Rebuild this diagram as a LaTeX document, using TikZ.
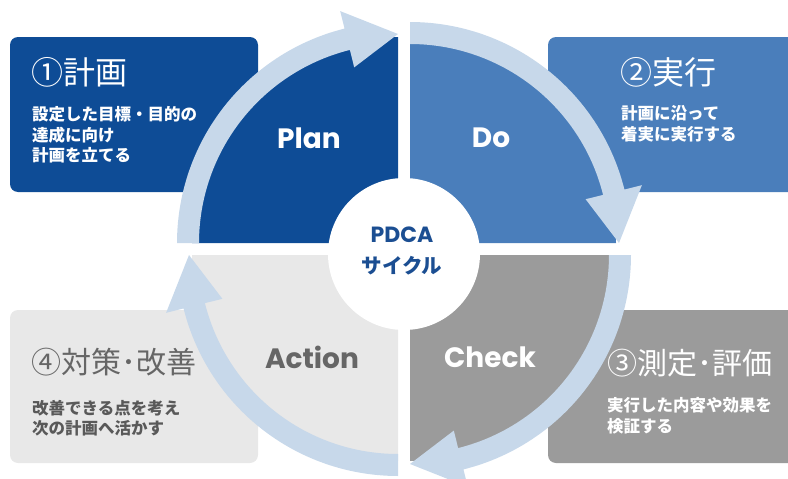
\documentclass[tikz,border=0pt]{standalone}
\usepackage{fontspec}
\newfontfamily\jp{Noto Sans CJK JP}
\newfontfamily\pop{Poppins}
\definecolor{planblue}{HTML}{0E4C96}
\definecolor{doblue}{HTML}{4A7EBB}
\definecolor{checkgray}{HTML}{9B9B9B}
\definecolor{actgray}{HTML}{E8E8E8}
\definecolor{arrowblue}{HTML}{C7D8EA}
\definecolor{acthead}{HTML}{666666}
\definecolor{acttext}{HTML}{595959}
\definecolor{centertext}{HTML}{1B4E92}
\begin{document}
\begin{tikzpicture}[x=1pt,y=-1pt,
  infobox/.style={rounded corners=8pt},
  headtext/.style={anchor=west,inner sep=0pt,font=\jp\fontsize{32}{38}\selectfont},
  longhead/.style={anchor=west,inner sep=0pt,font=\jp\fontsize{30}{36}\selectfont},
  subtext/.style={anchor=west,inner sep=0pt,align=left,font=\jp\bfseries\fontsize{16.5}{20.5}\selectfont},
  quadlabel/.style={inner sep=0pt,font=\pop\bfseries\fontsize{28}{32}\selectfont},
  cyclearrow/.style={fill=arrowblue}]
\useasboundingbox (0,0) rectangle (788,479);
% info boxes
\fill[planblue,infobox] (10,37) rectangle (258,192);
\fill[doblue,infobox] (548,37) rectangle (800,192);
\fill[checkgray,infobox] (548,310) rectangle (800,463);
\fill[actgray,infobox] (10,310) rectangle (258,463);
% Plan quadrant + arrow
\begin{scope}[shift={(398,243)}]
  \fill[planblue] (0,0) -- plot[domain=90:180,samples=60] (\x:206pt) -- cycle;
  \fill[cyclearrow] (180:221pt) -- plot[domain=180:104,samples=60] (\x:221pt)
    -- (104:239pt) -- (90:209pt) -- (104:181pt)
    -- plot[domain=104:180,samples=60] (\x:199pt) -- cycle;
\end{scope}
% Do quadrant + arrow
\begin{scope}[shift={(410,243)}]
  \fill[doblue] (0,0) -- plot[domain=0:90,samples=60] (\x:206pt) -- cycle;
  \fill[cyclearrow] (90:221pt) -- plot[domain=90:14,samples=60] (\x:221pt)
    -- (14:239pt) -- (0:209pt) -- (14:181pt)
    -- plot[domain=14:90,samples=60] (\x:199pt) -- cycle;
\end{scope}
% Check quadrant + arrow
\begin{scope}[shift={(410,255)}]
  \fill[checkgray] (0,0) -- plot[domain=-90:0,samples=60] (\x:206pt) -- cycle;
  \fill[cyclearrow] (0:221pt) -- plot[domain=0:-76,samples=60] (\x:221pt)
    -- (-76:239pt) -- (-90:209pt) -- (-76:181pt)
    -- plot[domain=-76:0,samples=60] (\x:199pt) -- cycle;
\end{scope}
% Action quadrant + arrow
\begin{scope}[shift={(398,255)}]
  \fill[actgray] (0,0) -- plot[domain=180:270,samples=60] (\x:206pt) -- cycle;
  \fill[cyclearrow] (270:221pt) -- plot[domain=270:194,samples=60] (\x:221pt)
    -- (194:239pt) -- (180:209pt) -- (194:181pt)
    -- plot[domain=194:270,samples=60] (\x:199pt) -- cycle;
\end{scope}
% centre disc
\fill[white] (404,254) circle[radius=76pt];
% quadrant labels
\node[quadlabel,text=white] (plan) at (309,138) {Plan};
\node[quadlabel,text=white] (do) at (491,138) {Do};
\node[quadlabel,text=white] (check) at (490,357) {Check};
\node[quadlabel,text=acthead] (action) at (312,357) {Action};
% centre text
\node[inner sep=0pt,text=centertext,font=\pop\bfseries\fontsize{22}{26}\selectfont] (pdca) at (402,235) {PDCA};
\node[inner sep=0pt,text=centertext,font=\jp\bfseries\fontsize{20.5}{24}\selectfont] (cyc) at (402,266) {サイクル};
% box texts
\node[headtext,text=white] (h1) at (31,72) {①計画};
\node[subtext,text=white] (s1) at (32,135) {設定した目標・目的の\\達成に向け\\計画を立てる};
\node[headtext,text=white] (h2) at (620,72) {②実行};
\node[subtext,text=white] (s2) at (621,124) {計画に沿って\\着実に実行する};
\node[longhead,text=white] (h3) at (607,363) {③測定･評価};
\node[subtext,text=white] (s3) at (607,416) {実行した内容や効果を\\検証する};
\node[longhead,text=acthead] (h4) at (31,362) {④対策･改善};
\node[subtext,text=acttext] (s4) at (32,418) {改善できる点を考え\\次の計画へ活かす};
\end{tikzpicture}
\end{document}
